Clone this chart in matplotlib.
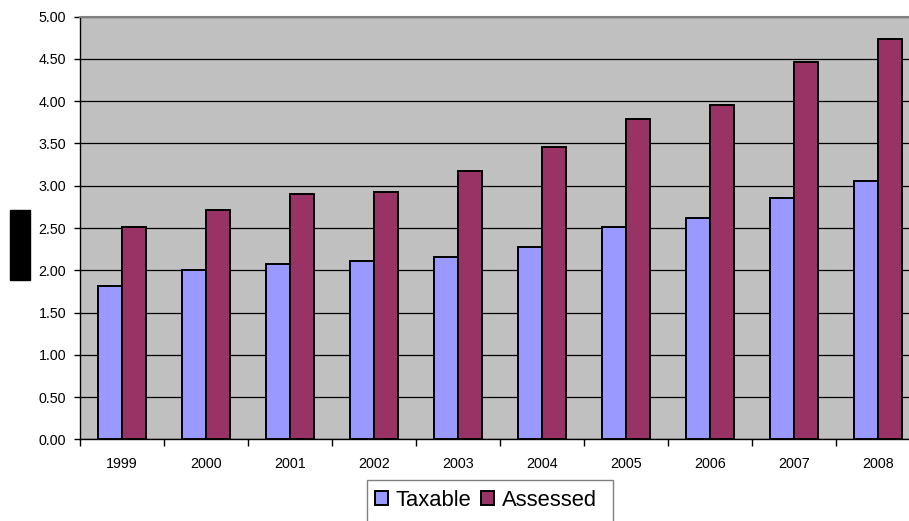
import matplotlib
matplotlib.use("Agg")
import matplotlib.pyplot as plt
from matplotlib.patches import Rectangle
import numpy as np

plt.rcParams['font.family'] = ['Liberation Sans', 'DejaVu Sans']

years = ['1999', '2000', '2001', '2002', '2003', '2004', '2005', '2006', '2007', '2008']
taxable = [1.81, 2.00, 2.07, 2.11, 2.16, 2.28, 2.51, 2.62, 2.86, 3.06]
assessed = [2.51, 2.71, 2.90, 2.93, 3.18, 3.46, 3.79, 3.95, 4.46, 4.74]
y_ticks = [0.0, 0.5, 1.0, 1.5, 2.0, 2.5, 3.0, 3.5, 4.0, 4.5, 5.0]

W, H = 909, 521
fig = plt.figure(figsize=(W / 100, H / 100), dpi=100)

# plot area (its right edge runs past the figure border)
left, right, top, bottom = 80, 920, 16.7, 439.3
ax = fig.add_axes([left / W, 1 - bottom / H, (right - left) / W, (bottom - top) / H])
ax.set_facecolor('#C0C0C0')

x = np.arange(len(years))
bw = 0.282
ax.bar(x - bw / 2, taxable, bw, color='#9999FF', edgecolor='black', linewidth=1.4,
       label='Taxable', zorder=3)
ax.bar(x + bw / 2, assessed, bw, color='#993366', edgecolor='black', linewidth=1.4,
       label='Assessed', zorder=3)

ax.set_xlim(-0.5, len(years) - 0.5)
ax.set_ylim(0, 5)
ax.set_yticks(y_ticks)
ax.set_yticklabels([f'{v:.2f}' for v in y_ticks])
ax.yaxis.grid(True, color='black', linewidth=0.9, zorder=1)
ax.set_axisbelow(True)

# category labels centred, tick marks at category boundaries
ax.set_xticks(x)
ax.set_xticklabels(years)
ax.set_xticks(np.arange(-0.5, len(years), 1.0), minor=True)
ax.tick_params(axis='x', which='major', length=0, pad=13, labelsize=10.3)
ax.tick_params(axis='x', which='minor', length=5, width=1, direction='out', color='black')
ax.tick_params(axis='y', length=4, width=1, direction='out', labelsize=10.3, pad=6)

for s in ('left', 'bottom'):
    ax.spines[s].set_color('black')
    ax.spines[s].set_linewidth(1.0)
ax.spines['top'].set_color('#808080')
ax.spines['top'].set_linewidth(1.5)
ax.spines['right'].set_visible(False)

# legend: box runs off the bottom edge of the figure
fig.patches.append(Rectangle((366.7 / W, -0.05), (612.7 - 366.7) / W,
                             1 - 480 / H + 0.05, transform=fig.transFigure,
                             facecolor='white', edgecolor='#808080', linewidth=1.0))
leg = fig.legend(loc='center left', bbox_to_anchor=(374.5 / W, 1 - 500 / H),
                 ncol=2, fontsize=15.8, frameon=False,
                 handlelength=0.6, handleheight=0.6, handletextpad=0.35,
                 columnspacing=0.45, borderpad=0, borderaxespad=0)

# axis-title block at the left
fig.patches.append(Rectangle((10 / W, 1 - 280 / H), 20 / W, 70 / H,
                             transform=fig.transFigure, color='black'))

fig.savefig('out.png', dpi=100)
